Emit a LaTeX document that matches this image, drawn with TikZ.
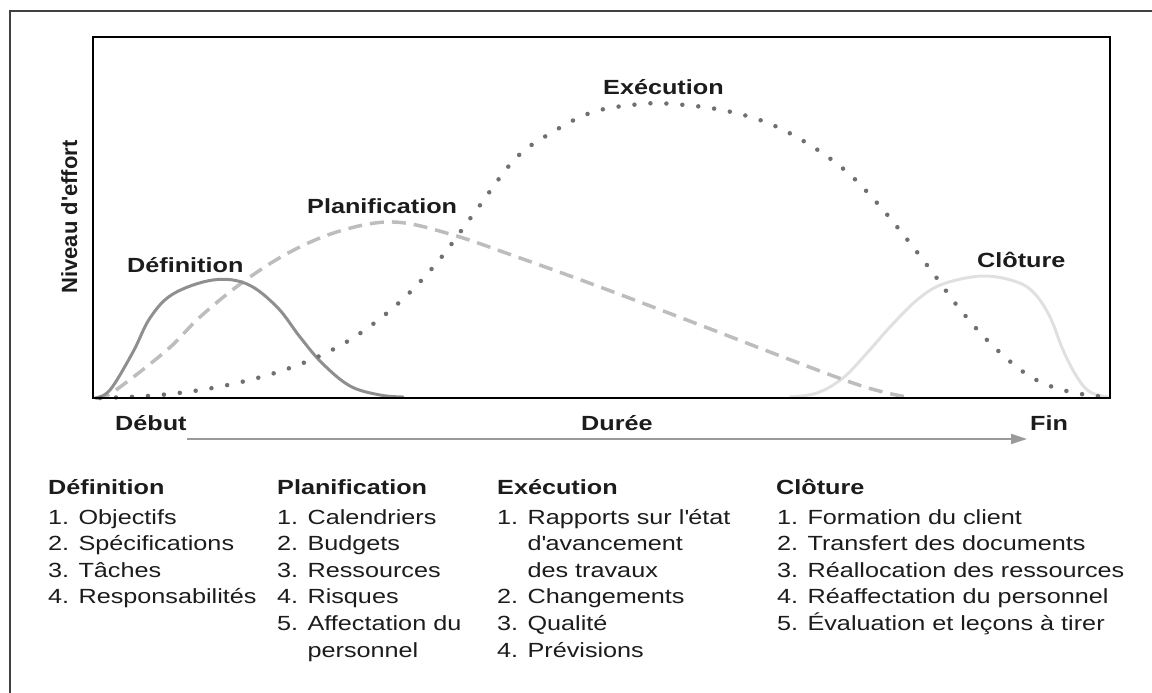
\documentclass[tikz,border=0pt]{standalone}
\usepackage{fontspec}
\setmainfont{Liberation Sans}[FakeStretch=1.23]
\newfontfamily\ylabfont{Liberation Sans}
\usetikzlibrary{arrows.meta}

\definecolor{txt}{HTML}{1C1C1C}
\definecolor{defgray}{HTML}{8F8F8F}
\definecolor{plangray}{HTML}{BDBDBD}
\definecolor{execgray}{HTML}{707070}
\definecolor{clogray}{HTML}{E0E0E0}
\definecolor{arrgray}{HTML}{9A9A9A}

\tikzset{
    lab/.style={font=\bfseries\fontsize{20.5}{25}\selectfont, text=txt, inner sep=0pt, anchor=base west},
    item/.style={font=\fontsize{20.5}{25}\selectfont, text=txt, inner sep=0pt, anchor=base west},
    phase/.style={line width=3pt, line cap=round},
    timearrow/.style={arrgray, line width=2pt, -{Triangle[length=16pt,width=10pt]}}
}

\begin{document}
\begin{tikzpicture}[x=1pt,y=-1pt]
    \useasboundingbox (0,0) rectangle (1152,693);
    % cadre exterieur
    \draw[black!75, line width=2pt] (10,693) -- (10,11) -- (1152,11);

    % courbes des phases
    \draw[phase, clogray] plot[smooth, tension=0.6] coordinates {(790,397) (817,393) (843,378) (867,353) (890,327) (917,300) (943,284) (983,276) (1017,282) (1035,294) (1050,317) (1063,350) (1077,377) (1090,392) (1108,397)};
    \draw[phase, plangray, line width=3.5pt, line cap=butt, dash pattern=on 14pt off 8pt] plot[smooth, tension=0.6] coordinates {(96,398) (113,392) (167,350) (200,317) (243,282) (290,252) (340,231) (393,222) (450,234) (520,258) (600,287) (700,325) (783,357) (850,382) (883,392) (907,397)};
    \draw[phase, defgray] plot[smooth, tension=0.6] coordinates {(95,398) (110,390) (133,352) (150,318) (173,294) (213,280) (247,284) (277,307) (300,337) (322,363) (350,386) (380,395) (403,397)};
    \draw[execgray, line width=4.5pt, line cap=round, dash pattern=on 0pt off 16pt] plot[smooth, tension=0.6] coordinates {(100,398) (160,395) (223,386) (287,369) (343,344) (393,308) (435,265) (475,212) (515,159) (551,133) (593,112) (641,104) (673,104) (722,110) (768,123) (810,145) (847,172) (878,204) (906,238) (933,273) (959,308) (988,341) (1022,371) (1050,386) (1081,394) (1108,397)};

    % axes
    \draw[black, line width=2.7pt] (93,37) rectangle (1110,398);
    \node[font=\ylabfont\bfseries\fontsize{22}{25}\selectfont, text=txt, inner sep=0pt, anchor=base, rotate=90] (ylab) at (77,217) {Niveau d\textquotesingle effort};

    \node[lab] (cDef) at (127,272) {Définition};
    \node[lab] (cPlan) at (307,213) {Planification};
    \node[lab] (cExe) at (603,95) {Exécution};
    \node[lab] (cClo) at (977,267) {Clôture};

    \node[lab] (deb) at (115,430) {Début};
    \node[lab] (dur) at (581,430) {Durée};
    \node[lab] (fin) at (1030,430) {Fin};
    \draw[timearrow] ([yshift=-9pt]deb.base east) -- ([xshift=-3pt,yshift=-9pt]fin.base west);

    % listes
    \node[lab] (hDef) at (48,494) {Définition};
    \foreach \t [count=\i] in {1. Objectifs, 2. Spécifications, 3. Tâches, 4. Responsabilités}
        \node[item] (def\i) at (48,{497.4+26.6*\i}) {\t};

    \node[lab] (hPlan) at (277,494) {Planification};
    \foreach \t [count=\i] in {1. Calendriers, 2. Budgets, 3. Ressources, 4. Risques, 5. Affectation du, \phantom{5. }personnel}
        \node[item] (plan\i) at (277,{497.4+26.6*\i}) {\t};

    \node[lab] (hExe) at (497,494) {Exécution};
    \foreach \t [count=\i] in {1. Rapports sur l\textquotesingle état, \phantom{1. }d\textquotesingle avancement, \phantom{1. }des travaux, 2. Changements, 3. Qualité, 4. Prévisions}
        \node[item] (exe\i) at (497,{497.4+26.6*\i}) {\t};

    \node[lab] (hClo) at (776,494) {Clôture};
    \foreach \t [count=\i] in {1. Formation du client, 2. Transfert des documents, 3. Réallocation des ressources, 4. Réaffectation du personnel, 5. Évaluation et leçons à tirer}
        \node[item] (clo\i) at (777,{497.4+26.6*\i}) {\t};
\end{tikzpicture}
\end{document}
